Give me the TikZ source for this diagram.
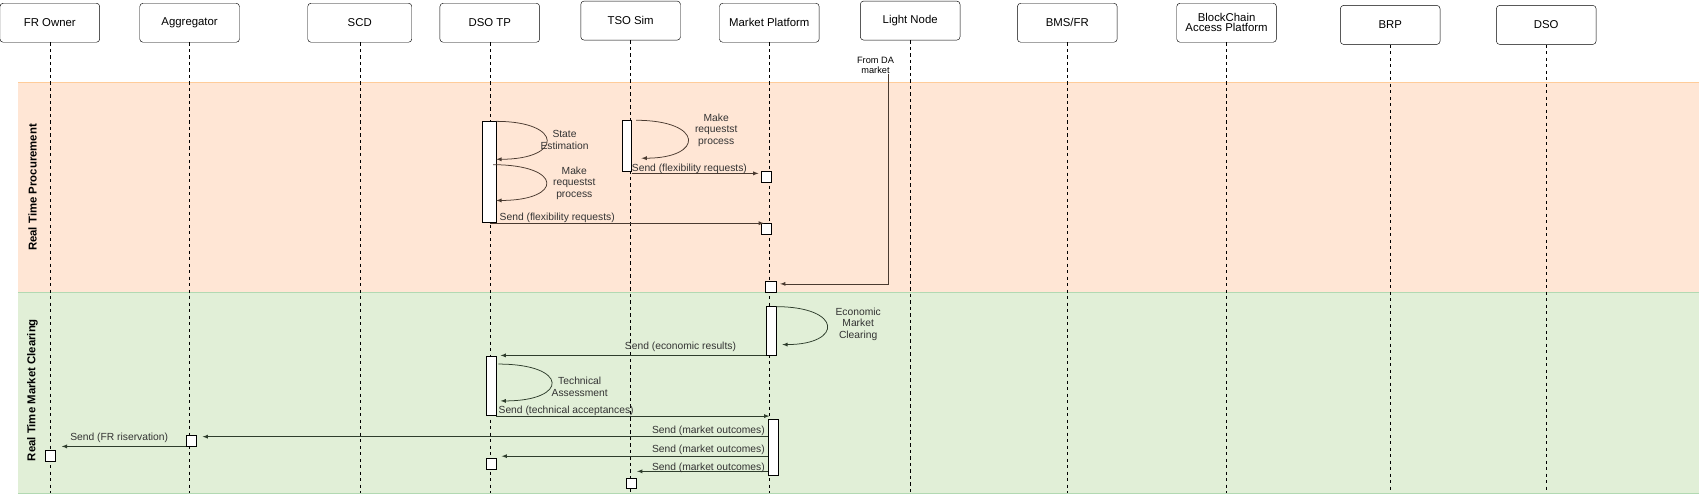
\documentclass[tikz,border=0pt]{standalone}
\usepackage{fontspec}
\setmainfont{Liberation Sans}
\usetikzlibrary{shapes, calc, arrows}
\definecolor{bandorange}{HTML}{FFE6D5}
\definecolor{bandgreen}{HTML}{E1EFD7}
\definecolor{msgbrown}{HTML}{4A3A30}
\definecolor{msggreen}{HTML}{2E3D2C}
\definecolor{labelgray}{HTML}{333333}
\tikzset{
  actor/.style={draw, rounded corners=3pt, fill=white, minimum width=92pt, minimum height=36pt, align=center, inner sep=1pt, font=\fontsize{10.5}{11}\selectfont},
  life/.style={dashed, thin},
  bar/.style={draw, fill=white, line width=0.6pt},
  msg/.style={line width=0.7pt, arrows={-latex}},
  lbl/.style={font=\fontsize{9.5}{10.5}\selectfont, text=labelgray, inner sep=1pt, align=center},
}
\begin{document}
\begin{tikzpicture}[x=1pt,y=-1pt]
    \useasboundingbox (0,0) rectangle (1568,455);

    % Bands
    \fill[bandorange] (17,76) rectangle (1568,270);
    \draw[orange!40] (17,76) -- (1568,76);
    \fill[bandgreen] (17,270) rectangle (1568,455);
    \draw[green!50!black!30] (17,270) -- (1568,270) (17,455) -- (1568,455);
    \node[rotate=90, font=\bfseries\fontsize{10.5}{11}\selectfont] at (30,173) {Real Time Procurement};
    \node[rotate=90, font=\bfseries\fontsize{10.5}{11}\selectfont] at (30,360) {Real Time Market Clearing};

    % Actors
    \node[actor] (fro) at (46,21) {FR Owner};
    \node[actor] (agg) at (175,21) {Aggregator};
    \node[actor, minimum width=96pt] (scd) at (332,21) {SCD};
    \node[actor] (dtp) at (452,21) {DSO TP};
    \node[actor] (tso) at (582,19) {TSO Sim};
    \node[actor] (mkt) at (710,21) {Market Platform};
    \node[actor] (lnd) at (840,19) {Light Node};
    \node[actor] (bms) at (985,21) {BMS/FR};
    \node[actor] (bcp) at (1132,21) {BlockChain\\[-2pt]Access Platform};
    \node[actor] (brp) at (1283,23) {BRP};
    \node[actor] (dso) at (1427,23) {DSO};

    % Lifelines
    \foreach \a in {fro,agg,scd,dtp,tso,mkt,lnd,bms,bcp,brp,dso}
        \draw[life] (\a.south) -- (\a.south |- 0,455);

    % Real time procurement
    \draw[bar] (445,112) rectangle (458,205);
    \draw[bar] (574,111) rectangle (583,158);
    \draw[bar] (703,158) rectangle (712,168);
    \draw[bar] (703,206) rectangle (712,216);
    \draw[bar] (706,260) rectangle (716,270);

    \draw[msg, msgbrown] (458,112) .. controls (520,112) and (520,147) .. (458,147);
    \node[lbl] at (521,129) {State\\Estimation};
    \draw[msg, msgbrown] (455,152) .. controls (520,152) and (520,185) .. (458,185);
    \node[lbl] at (530,169) {Make\\requestst\\process};
    \draw[msg, msgbrown] (452,206) -- (705,206);
    \node[lbl, anchor=south west] at (460,207) {Send (flexibility requests)};

    \draw[msg, msgbrown] (587,111) .. controls (650,111) and (650,146) .. (592,146);
    \node[lbl] at (661,120) {Make\\requestst\\process};
    \draw[msg, msgbrown] (583,160) -- (700,160);
    \node[lbl, anchor=south west] at (582,161) {Send (flexibility requests)};

    \node[lbl, text=black, font=\fontsize{8.5}{9}\selectfont] (fda) at (808,60) {From DA\\market};
    \draw[msg, msgbrown] (820,68) -- (820,262) -- (720,262);

    % Real time market clearing
    \draw[bar] (707,283) rectangle (716,328);
    \draw[msg, msggreen] (716,283) .. controls (778,283) and (778,318) .. (722,318);
    \node[lbl] at (792,299) {Economic\\Market\\Clearing};
    \draw[msg, msggreen] (707,328) -- (462,328);
    \node[lbl, anchor=south] at (628,326) {Send (economic results)};

    \draw[bar] (449,329) rectangle (458,383);
    \draw[msg, msggreen] (460,336) .. controls (525,336) and (525,370) .. (462,370);
    \node[lbl] at (535,357) {Technical\\Assessment};
    \draw[msg, msggreen] (458,384) -- (710,384);
    \node[lbl, anchor=south west] at (459,385) {Send (technical acceptances)};

    \draw[bar] (709,387) rectangle (718,439);
    \draw[msg, msggreen] (709,403) -- (187,403);
    \node[lbl, anchor=south east] at (707,403) {Send (market outcomes)};
    \draw[bar] (172,402) rectangle (181,412);
    \draw[msg, msggreen] (172,412) -- (57,412);
    \node[lbl, anchor=south] at (110,410) {Send (FR riservation)};
    \draw[bar] (42,416) rectangle (51,426);
    \draw[msg, msggreen] (709,421) -- (463,421);
    \node[lbl, anchor=south east] at (707,421) {Send (market outcomes)};
    \draw[bar] (449,423) rectangle (458,433);
    \draw[msg, msggreen] (709,435) -- (588,435);
    \node[lbl, anchor=south east] at (707,437) {Send (market outcomes)};
    \draw[bar] (578,441) rectangle (587,451);
\end{tikzpicture}
\end{document}
